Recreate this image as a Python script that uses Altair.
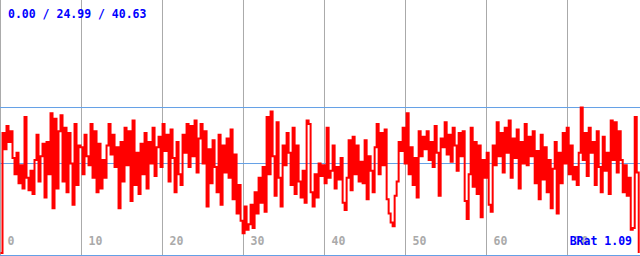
import altair as alt
import pandas as pd

# Series values (one sample every ~0.247 time units)
seg = [
    [0.0, 33.5, 29.0, 35.5, 31.0, 34.0, 26.5, 22.0, 28.0, 19.5],
    [24.5, 18.0, 38.0, 21.0, 17.5, 23.0, 16.5, 26.0, 33.0, 20.0],
    [27.0, 30.5, 15.5, 31.0, 22.0, 39.0, 12.5, 37.5, 18.0, 34.0],
    [38.5, 20.0, 35.0, 17.0, 33.5, 25.0, 13.5, 36.0, 19.0, 30.0],
    [29.5, 22.0, 33.0, 27.0, 24.5, 36.0, 21.0, 34.0, 17.0, 30.5],
    [18.0, 26.0, 21.0, 30.0, 36.0, 27.5, 33.0, 24.0, 29.5, 12.5],
    [31.0, 20.0, 35.0, 24.5, 34.0, 14.5, 37.0, 19.0, 28.0, 16.5],
    [30.5, 22.0, 33.5, 18.0, 31.0, 25.0, 35.0, 21.5, 29.5, 32.5],
    [24.0, 36.0, 28.5, 33.0, 20.0, 34.5, 26.5, 17.0, 31.0, 22.0],
    [19.0, 33.0, 28.0, 36.0, 24.0, 35.5, 27.0, 37.0, 22.5, 32.0],
    [36.0, 25.0, 34.0, 13.0, 29.0, 19.5, 31.5, 24.0, 17.0, 33.0],
    [13.5, 30.0, 22.5, 32.0, 21.0, 34.5, 15.0, 27.5, 11.0, 19.0],
    [9.0, 5.5, 13.0, 6.5, 8.0, 13.5, 7.0, 17.0, 11.0, 21.0],
    [14.0, 24.0, 11.5, 38.0, 22.0, 39.5, 27.0, 16.0, 36.5, 21.0],
    [13.0, 30.0, 24.5, 33.5, 28.0, 19.0, 35.0, 16.5, 30.0, 20.0],
    [15.5, 23.0, 14.0, 37.0, 36.0, 17.0, 13.0, 22.0, 15.5, 25.0],
    [21.5, 24.5, 19.5, 35.0, 21.0, 23.0, 30.0, 18.0, 24.0, 20.5],
    [26.5, 14.0, 12.0, 21.0, 31.5, 17.5, 32.5, 22.0, 30.0, 20.0],
    [25.5, 19.5, 31.5, 15.0, 27.0, 23.0, 17.0, 29.5, 36.0, 22.0],
    [33.5, 24.5, 34.5, 15.0, 11.0, 8.5, 7.5, 16.0, 20.0, 31.0],
    [28.5, 35.0, 25.0, 39.0, 22.0, 29.5, 19.0, 26.5, 15.5, 34.0],
    [27.0, 32.5, 29.0, 34.0, 26.0, 31.0, 24.0, 35.5, 28.0, 16.0],
    [32.0, 29.5, 36.5, 27.5, 33.0, 25.5, 35.0, 30.0, 23.0, 33.5],
    [27.0, 34.0, 14.5, 9.5, 22.0, 35.0, 18.5, 31.0, 16.5, 30.0],
    [10.0, 26.0, 21.0, 28.0, 13.5, 11.5, 30.0, 24.5, 36.5, 27.0],
    [33.5, 22.5, 35.0, 28.0, 37.0, 21.0, 32.0, 26.5, 34.5, 18.0],
    [31.0, 25.0, 36.0, 24.5, 32.5, 27.0, 34.0, 19.5, 28.5, 15.0],
    [33.0, 20.5, 29.5, 17.0, 26.0, 12.5, 23.5, 31.0, 11.0, 28.0],
    [19.5, 33.5, 25.0, 35.0, 22.0, 30.0, 20.5, 24.0, 19.0, 28.0],
    [40.63, 26.0, 33.5, 21.5, 35.0, 28.0, 31.0, 19.0, 34.0, 24.0],
    [17.0, 32.5, 23.0, 28.0, 16.5, 37.0, 26.0, 36.5, 22.5, 34.0],
    [26.0, 17.0, 24.5, 16.0, 21.0, 6.5, 7.0, 38.0, 22.5, 0.0],
]
values = [v for s in seg for v in s]
STEP = 0.247
times = [round(i * STEP, 4) for i in range(len(values))]

tick_values = [0, 10, 20, 30, 40, 50, 60, 70]
stat_min, stat_mean, stat_max = 0.00, 24.99, 40.63
stat_label = "0.00 / 24.99 / 40.63"
brat_label = "BRat 1.09"

FONT = "DejaVu Sans Mono"
xs = alt.Scale(domain=[-0.0617, 78.9506], nice=False, zero=False)
ys = alt.Scale(domain=[-0.838, 70.66], nice=False, zero=False)

df = pd.DataFrame({"t": times, "v": values})

grid = alt.Chart(pd.DataFrame({"t": tick_values})).mark_rule(
    color="#aaaaaa", strokeWidth=1
).encode(
    x=alt.X("t:Q", scale=xs, axis=None)
)

hrules = alt.Chart(pd.DataFrame({"v": [stat_max, stat_mean]})).mark_rule(
    color="#64a0e6", strokeWidth=1
).encode(y=alt.Y("v:Q", scale=ys, axis=None))

bottom = alt.Chart(pd.DataFrame({"a": [0]})).mark_rule(
    color="#64a0e6", strokeWidth=1
).encode(x=alt.value(0), x2=alt.value(640), y=alt.value(255.5))

line = alt.Chart(df).mark_line(
    color="#ff0000", strokeWidth=2, interpolate="step-after"
).encode(
    x=alt.X("t:Q", scale=xs, axis=None),
    y=alt.Y("v:Q", scale=ys, axis=None),
)

ticklabels = alt.Chart(pd.DataFrame({"t": tick_values})).mark_text(
    font=FONT, fontSize=11.5, fontWeight="bold", color="#aaaaaa",
    align="left", baseline="middle", dx=7
).encode(
    x=alt.X("t:Q", scale=xs, axis=None),
    y=alt.value(242),
    text=alt.Text("t:Q"),
)

toptext = alt.Chart(pd.DataFrame({"s": [stat_label]})).mark_text(
    font=FONT, fontSize=11.5, fontWeight="bold", color="#0000ff",
    align="left", baseline="middle"
).encode(x=alt.value(8), y=alt.value(15), text="s:N")

brat = alt.Chart(pd.DataFrame({"s": [brat_label]})).mark_text(
    font=FONT, fontSize=11.5, fontWeight="bold", color="#0000ff",
    align="right", baseline="middle"
).encode(x=alt.value(632), y=alt.value(242), text="s:N")

chart = alt.layer(grid, hrules, bottom, line, ticklabels, toptext, brat).properties(
    width=640, height=256, padding=0,
    autosize=alt.AutoSizeParams(type="none"),
    background="white",
).configure_view(strokeWidth=0)

chart.save("out.html", embed_options={"renderer": "svg", "actions": False})
